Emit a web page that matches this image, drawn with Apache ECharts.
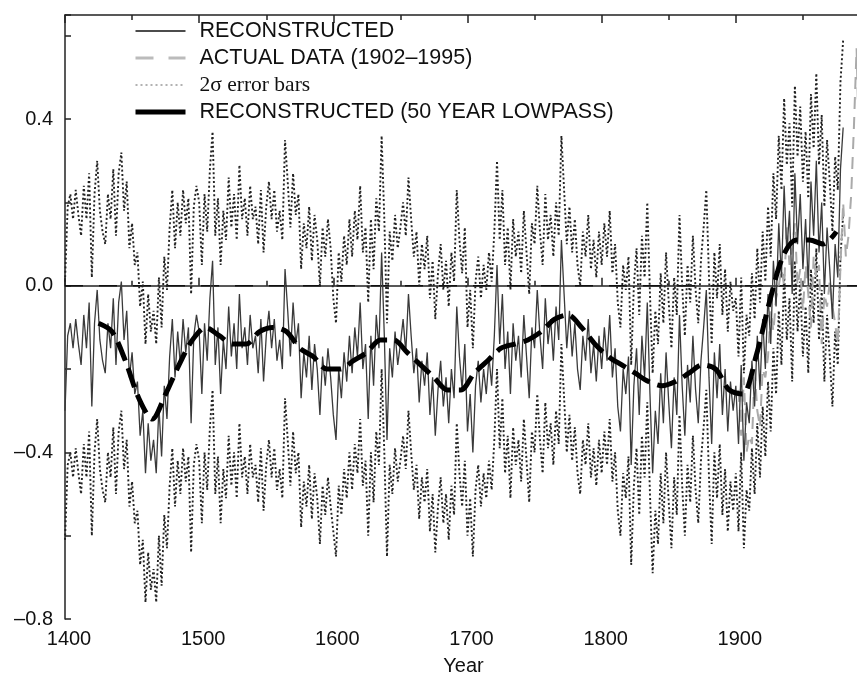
<!DOCTYPE html>
<html>
<head>
<meta charset="utf-8">
<title>Reconstructed NH temperature 1400-1980</title>
<script src="https://cdn.jsdelivr.net/npm/echarts@6/dist/echarts.min.js"></script>
<style>
    html, body { margin: 0; padding: 0; background: #fff; }
    #chartArea { width: 857px; height: 675px; }
</style>
</head>
<body>
<div id="chartArea"></div>
<script>
// reconstructed series, read every 2 years off the picture
var reconStart = 1400, reconStep = 2;
var recon1400 = [
    -0.30, -0.12, -0.09, -0.15, -0.08, -0.14, -0.19, -0.07, -0.15, -0.04,
    -0.29, -0.09, -0.01, -0.13, -0.18, -0.21, -0.09, -0.15, -0.03, -0.19,
    -0.04, 0.01, -0.13, -0.06, -0.22, -0.16, -0.26, -0.23, -0.36, -0.30,
    -0.45, -0.33, -0.42, -0.37, -0.45, -0.29, -0.41, -0.24, -0.32, -0.17,
    -0.08, -0.22, -0.11, -0.19, -0.08, -0.16, -0.10, -0.33, -0.12, -0.07
];
var recon1500 = [
    -0.11, -0.26, -0.09, -0.18, -0.03, 0.06, -0.19, -0.10, -0.26, -0.13,
    -0.20, -0.05, -0.17, -0.09, -0.20, -0.02, -0.15, -0.10, -0.19, -0.07,
    -0.15, -0.12, -0.21, -0.08, -0.23, -0.12, -0.06, -0.15, -0.08, -0.18,
    -0.13, -0.20, 0.04, -0.06, -0.17, -0.04, -0.14, -0.09, -0.27, -0.16,
    -0.22, -0.12, -0.25, -0.14, -0.20, -0.31, -0.17, -0.24, -0.15, -0.22
];
var recon1600 = [
    -0.31, -0.37, -0.20, -0.27, -0.16, -0.23, -0.12, -0.21, -0.10, -0.17,
    -0.04, -0.20, -0.14, -0.32, -0.12, -0.24, -0.07, -0.15, 0.08, -0.12,
    -0.37, -0.15, -0.22, -0.11, -0.19, -0.14, -0.08, -0.16, -0.02, -0.12,
    -0.21, -0.15, -0.28, -0.18, -0.24, -0.16, -0.31, -0.22, -0.36, -0.25,
    -0.18, -0.29, -0.22, -0.33, -0.20, -0.27, -0.05, -0.17, -0.25, -0.14
];
var recon1700 = [
    -0.35, -0.26, -0.40, -0.24, -0.18, -0.28, -0.20, -0.26, -0.17, -0.24,
    -0.12, 0.05, -0.14, -0.02, -0.20, -0.11, -0.26, -0.09, -0.18, -0.12,
    -0.22, -0.07, -0.17, -0.27, -0.10, -0.15, -0.01, -0.12, -0.20, -0.03,
    -0.14, -0.08, -0.18, -0.05, -0.13, 0.11, -0.02, -0.15, -0.06, -0.17,
    -0.09, -0.20, -0.25, -0.12, -0.18, -0.08, -0.21, -0.14, -0.23, -0.12
];
var recon1800 = [
    -0.20, -0.10, -0.18, -0.07, -0.22, -0.15, -0.29, -0.35, -0.20, -0.26,
    -0.17, -0.43, -0.24, -0.15, -0.31, -0.12, -0.22, -0.04, -0.26, -0.45,
    -0.30, -0.38, -0.21, -0.33, -0.16, -0.28, -0.39, -0.22, -0.31, -0.07,
    -0.24, -0.36, -0.19, -0.28, -0.12, -0.25, -0.33, -0.18, -0.10, -0.01,
    -0.22, -0.38, -0.16, -0.27, -0.14, -0.31, -0.20, -0.35, -0.23, -0.30
];
var recon1900 = [
    -0.24, -0.38, -0.19, -0.42, -0.28, -0.33, -0.18, -0.29, -0.12, -0.25,
    -0.08, -0.20, -0.02, -0.14, 0.06, -0.05, 0.15, 0.02, 0.24, 0.08,
    0.18, -0.02, 0.27, 0.10, 0.22, 0.04, 0.16, 0.00, 0.25, 0.12,
    0.30, 0.08, 0.20, -0.02, 0.14, 0.04, -0.08, 0.10, 0.02, 0.28,
    0.38
];

// 2 sigma half width, by period
var sigmaYears = [1400, 1600, 1700, 1820, 1900];
var sigmaValues = [0.31, 0.28, 0.25, 0.24, 0.21];

// 50 year lowpass
var lowpassStart = 1425, lowpassStep = 10;
var lowpassValues = [
    -0.09, -0.11, -0.18, -0.27, -0.32, -0.26, -0.19, -0.13,
    -0.10, -0.12, -0.14, -0.14, -0.11, -0.10, -0.11, -0.15, -0.17, -0.20,
    -0.20, -0.18, -0.16, -0.13, -0.13, -0.16, -0.19, -0.22, -0.25, -0.25,
    -0.21, -0.18, -0.15, -0.14, -0.13, -0.11, -0.08, -0.07, -0.10, -0.14,
    -0.17, -0.19, -0.21, -0.23, -0.24, -0.23, -0.21, -0.19, -0.20, -0.25,
    -0.26, -0.17, -0.04, 0.07, 0.11, 0.11, 0.10, 0.13
];

// instrumental record 1902-1995
var actualStart = 1902, actualStep = 2;
var actualValues = [
    -0.25, -0.36, -0.22, -0.40, -0.36, -0.38, -0.20, -0.30, -0.34, -0.20,
    -0.22, -0.17, -0.06, -0.11, -0.03, 0.00, 0.04, 0.00, 0.14, 0.05,
    0.09, 0.15, 0.00, 0.04, -0.06, 0.05, -0.02, -0.10, 0.07, 0.02,
    0.05, -0.14, -0.02, -0.05, 0.01, -0.05, -0.09, -0.14, 0.05, 0.20,
    0.07, 0.12, 0.22, 0.38, 0.57, 0.30, 0.35
];

// zero reference line
var zeroLine = [[1400, 0], [2000, 0]];

var FONT = "'Liberation Sans', Arial, sans-serif";
var SERIF = "'Liberation Serif', 'Times New Roman', serif";

function toPairs(start, step, values) {
    return values.map(function (v, i) { return [start + i * step, v]; });
}
function sigmaFor(year) {
    var s = sigmaValues[0];
    for (var i = 0; i < sigmaYears.length; i++) {
        if (year >= sigmaYears[i]) s = sigmaValues[i];
    }
    return s;
}

var reconData = toPairs(reconStart, reconStep,
    recon1400.concat(recon1500, recon1600, recon1700, recon1800, recon1900));
var upperData = reconData.map(function (p) { return [p[0], +(p[1] + sigmaFor(p[0])).toFixed(3)]; });
var lowerData = reconData.map(function (p) { return [p[0], +(p[1] - sigmaFor(p[0])).toFixed(3)]; });
var lowpassData = toPairs(lowpassStart, lowpassStep, lowpassValues);
var actualData = toPairs(actualStart, actualStep, actualValues);

var axisColor = '#222';

function xAxisBase(pos) {
    return {
        type: 'value',
        position: pos,
        min: 1400,
        max: 2000,
        interval: 100,
        axisLine: { show: true, lineStyle: { color: axisColor, width: 1.5 } },
        axisTick: { show: true, inside: true, length: 8, lineStyle: { color: axisColor, width: 1.5 } },
        minorTick: { show: true, splitNumber: 2, length: 5, lineStyle: { color: axisColor, width: 1.5 } },
        splitLine: { show: false },
        minorSplitLine: { show: false }
    };
}

var xBottom = xAxisBase('bottom');
xBottom.name = 'Year';
xBottom.nameLocation = 'middle';
xBottom.nameGap = 37;
xBottom.nameTextStyle = { fontFamily: FONT, fontSize: 20, color: '#111', padding: [0, 8, 0, 0] };
xBottom.axisLabel = {
    margin: 10, showMaxLabel: false, fontFamily: FONT, fontSize: 20, color: '#111', padding: [0, 0, 0, 8],
    formatter: function (v) { return String(v); }
};

var xTop = xAxisBase('top');
xTop.axisLabel = { show: false };

var errStyle = { color: '#222', width: 1.9, type: [2, 2.4] };

var option = {
    animation: false,
    backgroundColor: '#fff',
    grid: { left: 65, right: -13, top: 15, bottom: 56, outerBoundsMode: 'none', containLabel: false },
    legend: {
        orient: 'vertical',
        left: 133,
        top: 20,
        padding: 0,
        itemWidth: 50,
        itemHeight: 14,
        itemGap: 5,
        selectedMode: false,
        itemStyle: { color: 'rgba(0,0,0,0)', borderWidth: 0, opacity: 0 },
        textStyle: { fontFamily: FONT, fontSize: 21.5, color: '#111', lineHeight: 22, padding: [0, 0, 0, 9] },
        data: [
            { name: 'RECONSTRUCTED', lineStyle: { width: 1.5, color: '#111' } },
            { name: 'ACTUAL DATA (1902\u20131995)', lineStyle: { width: 3, color: '#bbb', type: [18, 15] } },
            { name: '2\u03c3 error bars', lineStyle: { width: 1.5, color: '#999', type: [2, 3] },
              textStyle: { fontFamily: SERIF, fontSize: 21.5, color: '#111' } },
            { name: 'RECONSTRUCTED (50 YEAR LOWPASS)', lineStyle: { width: 5, color: '#000', type: 'solid' } }
        ]
    },
    xAxis: [xBottom, xTop],
    yAxis: {
        type: 'value',
        min: -0.8,
        max: 0.65,
        interval: 0.2,
        axisLine: { show: true, lineStyle: { color: axisColor, width: 1.5 } },
        axisTick: { show: true, inside: true, length: 6, lineStyle: { color: axisColor, width: 1.5 } },
        splitLine: { show: false },
        axisLabel: {
            margin: 12,
            fontFamily: FONT,
            fontSize: 20,
            color: '#111',
            formatter: function (v) {
                var k = Math.round(v / 0.4);
                if (Math.abs(v - k * 0.4) > 1e-6 || v > 0.5) return '';
                return v.toFixed(1).replace('-', '\u2013');
            }
        }
    },
    series: [
        {
            name: 'zero', type: 'line', data: zeroLine,
            symbol: 'none', silent: true, z: 1,
            lineStyle: { color: '#111', width: 1.5, type: [18, 16] }
        },
        {
            name: '2\u03c3 error bars', type: 'line', data: upperData,
            symbol: 'none', silent: true, z: 2, lineStyle: errStyle
        },
        {
            name: '2\u03c3 error bars', type: 'line', data: lowerData,
            symbol: 'none', silent: true, z: 2, lineStyle: errStyle
        },
        {
            name: 'ACTUAL DATA (1902\u20131995)', type: 'line', data: actualData,
            symbol: 'none', silent: true, z: 3,
            lineStyle: { color: '#aaa', width: 2, type: [12, 8] }
        },
        {
            name: 'RECONSTRUCTED', type: 'line', data: reconData,
            symbol: 'none', silent: true, z: 4,
            lineStyle: { color: '#3a3a3a', width: 1.3 }
        },
        {
            name: 'RECONSTRUCTED (50 YEAR LOWPASS)', type: 'line', data: lowpassData,
            symbol: 'none', silent: true, z: 5, smooth: 0.3,
            lineStyle: { color: '#000', width: 5, type: [20, 8] }
        }
    ]
};

var myChart = echarts.init(document.getElementById('chartArea'));
myChart.setOption(option);
</script>
</body>
</html>
